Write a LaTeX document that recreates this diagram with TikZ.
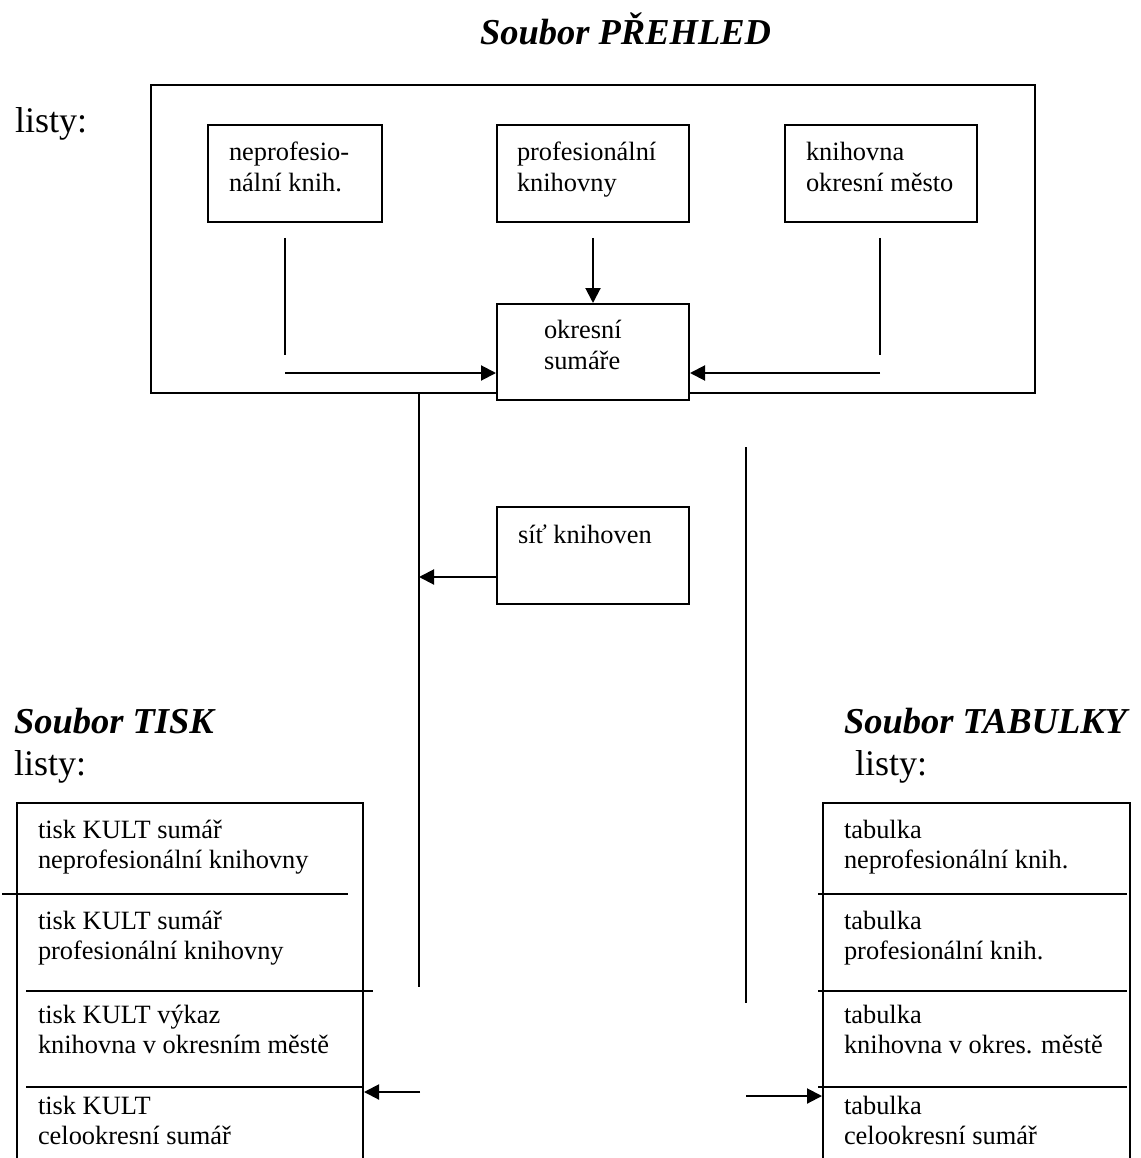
\documentclass[tikz,border=0pt]{standalone}
\usepackage{fontspec}
\setmainfont{Liberation Serif}
\usetikzlibrary{arrows.meta}
\newcommand{\firstl}{\rule{0pt}{20pt}}
\begin{document}
\begin{tikzpicture}[x=1pt,y=-1pt,
  line width=2pt,
  box/.style={draw, line width=2pt, inner sep=0pt, anchor=north west},
  txt/.style={font=\fontsize{26.4}{30}\selectfont, align=left, inner sep=0pt, anchor=north west},
  txtb/.style={font=\fontsize{26.4}{31}\selectfont, align=left, inner sep=0pt, anchor=north west},
  ttl/.style={font=\fontsize{36.5}{40}\selectfont\bfseries\itshape, inner sep=0pt, anchor=base west},
  lst/.style={font=\fontsize{36}{40}\selectfont, inner sep=0pt, anchor=base west},
  arr/.style={-{Triangle[length=15pt,width=15pt]}}]
\fill[white] (0,0) rectangle (1140,1158);
\clip (0,0) rectangle (1140,1158);

% ---------- top: Soubor PREHLED ----------
\node[ttl] (tprehled) at (479,45) {Soubor PŘEHLED};
\node[lst] (lprehled) at (14,133) {listy:};
\node[box, line width=2.4pt, minimum width=884pt, minimum height=308pt] (outer) at (150,84) {};

\node[box, minimum width=174pt, minimum height=97pt] (b1) at (207,124) {};
\node[box, minimum width=192pt, minimum height=97pt] (b2) at (496,124) {};
\node[box, minimum width=192pt, minimum height=97pt] (b3) at (784,124) {};
\node[box, fill=white, minimum width=192pt, minimum height=96pt] (c) at (496,303) {};

\node[txtb] (t1) at (228,140) {\firstl neprofesio-\\nální knih.};
\node[txtb] (t2) at (516,140) {\firstl profesionální\\knihovny};
\node[txtb] (t3) at (805,140) {\firstl knihovna\\okresní město};
\node[txtb] (tc) at (543,317) {\firstl okresní\\sumáře};

\coordinate (l1a) at (285,238);
\coordinate (l1b) at (285,355);
\coordinate (l1c) at (285,373);
\coordinate (l2a) at (592,238);
\coordinate (l3a) at (880,238);
\coordinate (l3b) at (880,355);
\coordinate (l3c) at (880,373);

\draw (l1a) -- (l1b);
\draw[arr] (l1c) -- (l1c -| c.west);
\draw[arr] (c.north |- l2a) -- (c.north);
\draw (l3a) -- (l3b);
\draw[arr] (l3c) -- (l3c -| c.east);

% ---------- middle ----------
\node[box, minimum width=192pt, minimum height=97pt] (s) at (496,506) {};
\node[txt] (ts) at (517,522) {\firstl síť knihoven};

\coordinate (vL) at (419,987);
\coordinate (vRa) at (746,447);
\coordinate (vRb) at (746,1003);
\coordinate (sa) at (496,577);
\draw (outer.south -| vL) -- (vL);
\draw (vRa) -- (vRb);
\draw[arr] (sa) -- (sa -| vL);

% ---------- Soubor TISK ----------
\node[ttl] (ttisk) at (13,733) {Soubor TISK};
\node[lst] (ltisk) at (13,775) {listy:};
\node[box, minimum width=346pt, minimum height=420pt] (tisk) at (16,802) {};
\draw (2,894) -- (348,894);
\draw (26,991) -- (373,991);
\draw (26,1087) -- (362,1087);
\node[txt] (tk1) at (37,817) {\firstl tisk KULT sumář\\neprofesionální knihovny};
\node[txt] (tk2) at (37,908) {\firstl tisk KULT sumář\\profesionální knihovny};
\node[txt] (tk3) at (37,1002) {\firstl tisk KULT výkaz\\knihovna v okresním městě};
\node[txt] (tk4) at (37,1093) {\firstl tisk KULT\\celookresní sumář};
\coordinate (at1) at (420,1092);
\draw[arr] (at1) -- (at1 -| tisk.east);

% ---------- Soubor TABULKY ----------
\node[ttl] (ttab) at (843,733) {Soubor TABULKY};
\node[lst] (ltab) at (854,775) {listy:};
\node[box, minimum width=307pt, minimum height=420pt] (tab) at (822,802) {};
\draw (818,894) -- (1127,894);
\draw (818,991) -- (1127,991);
\draw (818,1087) -- (1127,1087);
\node[txt] (tb1) at (843,817) {\firstl tabulka\\neprofesionální knih.};
\node[txt] (tb2) at (843,908) {\firstl tabulka\\profesionální knih.};
\node[txt] (tb3) at (843,1002) {\firstl tabulka\\knihovna v okres. městě};
\node[txt] (tb4) at (843,1093) {\firstl tabulka\\celookresní sumář};
\coordinate (at2) at (746,1096);
\draw[arr] (at2) -- (at2 -| tab.west);
\end{tikzpicture}
\end{document}
